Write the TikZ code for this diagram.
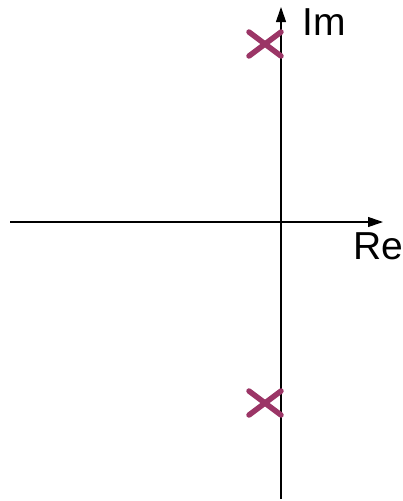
\documentclass[tikz,border=0pt]{standalone}
\usepackage{fontspec}
\setmainfont{Liberation Sans}
\usepackage{xcolor}
\usetikzlibrary{arrows.meta,positioning}

\definecolor{polecol}{HTML}{9B3566}

\begin{document}
\begin{tikzpicture}[
  x=1pt, y=-1pt,
  axis/.style={line width=1.1pt, -{Triangle[length=15pt,width=10pt]}},
  pole/.style={draw=polecol, line width=5.5pt, line cap=round},
  lbl/.style={font=\fontsize{39}{39}\selectfont, inner sep=0pt}
]
\useasboundingbox (0,0) rectangle (403,501);
% axis ends
\coordinate (west) at (10,222);
\coordinate (east) at (383,222);
\coordinate (south) at (281,499);
\coordinate (north) at (281,7);
\draw[axis] (west) -- (east);
\draw[axis] (south) -- (north);
\node[lbl] (im) at (324,22) {Im};
\node[lbl] (re) at (378,246) {Re};
% poles
\coordinate (p1) at (265,44);
\coordinate (p2) at (265,403);
\foreach \p in {p1,p2} {
  \draw[pole] ([shift={(-16,-12)}]\p) -- ([shift={(16,12)}]\p);
  \draw[pole] ([shift={(-16,12)}]\p) -- ([shift={(16,-12)}]\p);
}
\end{tikzpicture}
\end{document}
